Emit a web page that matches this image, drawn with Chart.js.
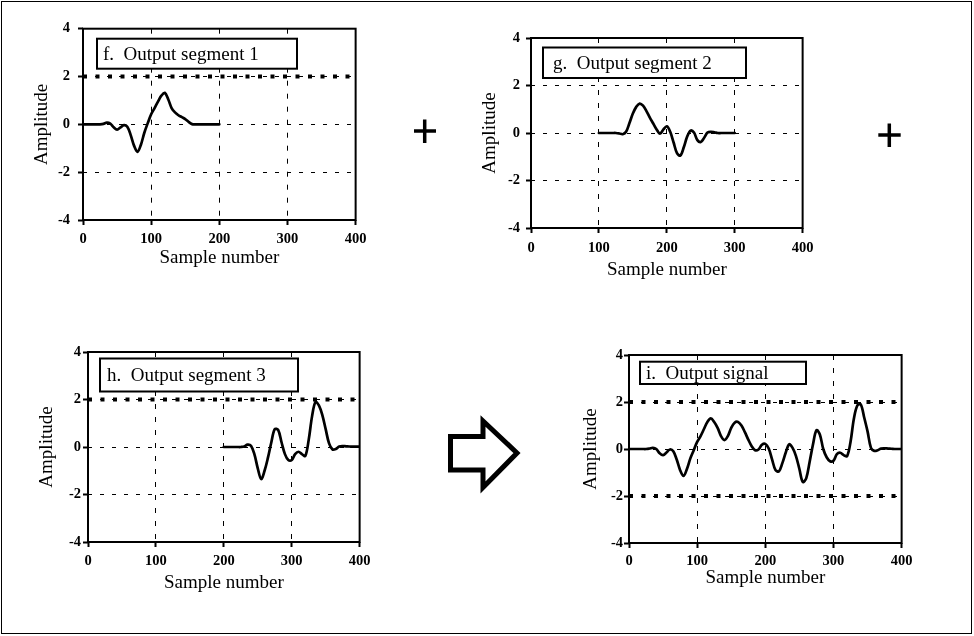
<!DOCTYPE html>
<html><head><meta charset="utf-8">
<script src="https://cdn.jsdelivr.net/npm/chart.js@4/dist/chart.umd.min.js"></script>
<style>
html,body{margin:0;padding:0;background:#fff;}
body{width:974px;height:636px;position:relative;overflow:hidden;}
#frame{position:absolute;left:1px;top:1px;width:971px;height:633px;border:1px solid #000;box-sizing:border-box;}
canvas{position:absolute;}
svg{position:absolute;left:0;top:0;}
</style></head><body>
<div id="frame"></div>
<canvas id="cf"></canvas>
<canvas id="cg"></canvas>
<canvas id="ch"></canvas>
<canvas id="ci"></canvas>
<svg width="974" height="636">
  <g stroke="#000" stroke-width="3.5" fill="none">
    <line x1="414" y1="131" x2="436" y2="131"/>
    <line x1="424.7" y1="119.5" x2="424.7" y2="143"/>
    <line x1="878.3" y1="135" x2="900.7" y2="135"/>
    <line x1="889.3" y1="123.5" x2="889.3" y2="147"/>
  </g>
  <polygon points="450.5,436.5 483,436.5 483,421 517,453 483,487.5 483,470 450.5,470" fill="#fff" stroke="#000" stroke-width="5" stroke-linejoin="miter"/>
</svg>
<script>
// ---- data ----
const sampleTicks = [0, 100, 200, 300, 400];
const amplitudeTicks = [-4, -2, 0, 2, 4];

const seg1Samples = [0,5,10,15,20,25,30,35,40,45,50,55,60,65,70,75,80,85,90,95,100,105,110,115,120,125,130,135,140,145,150,155,160,165,170,175,180,185,190,195,200];
const seg1Values  = [0,0,0,0,0,0,0.02,0.07,0.03,-0.12,-0.22,-0.13,-0.03,-0.1,-0.45,-0.9,-1.15,-0.85,-0.35,0.05,0.42,0.68,0.95,1.2,1.32,1.05,0.68,0.5,0.38,0.3,0.22,0.1,0.01,0,0,0,0,0,0,0,0];

const seg2Samples = [100,105,110,115,120,125,130,135,140,145,150,155,160,165,170,175,180,185,190,195,200,205,210,215,220,225,230,235,240,245,250,255,260,265,270,275,280,285,290,295,300];
const seg2Values  = [0,0,0,0,0,0,-0.02,-0.05,0.05,0.42,0.82,1.1,1.24,1.15,0.92,0.65,0.4,0.15,-0.03,0.15,0.28,0.05,-0.4,-0.85,-0.95,-0.6,-0.15,0.1,0.02,-0.3,-0.38,-0.2,0.02,0.05,0.03,0,0,0,0,0,0];

const seg3Samples = [200,205,210,215,220,225,230,235,240,245,250,255,260,265,270,275,280,285,290,295,300,305,310,315,320,325,330,335,340,345,350,355,360,365,370,375,380,385,390,395,400];
const seg3Values  = [0,0,0,0,0,0,0.02,0.1,0.05,-0.3,-0.9,-1.35,-1.0,-0.45,0.2,0.75,0.72,0.2,-0.3,-0.55,-0.55,-0.3,-0.2,-0.3,-0.38,0.3,1.3,1.9,1.75,1.35,0.75,0.15,-0.1,-0.08,0.02,0.04,0.03,0.02,0.02,0.02,0.02];

const outSamples = [0,5,10,15,20,25,30,35,40,45,50,55,60,65,70,75,80,85,90,95,100,105,110,115,120,125,130,135,140,145,150,155,160,165,170,175,180,185,190,195,200,205,210,215,220,225,230,235,240,245,250,255,260,265,270,275,280,285,290,295,300,305,310,315,320,325,330,335,340,345,350,355,360,365,370,375,380,385,390,395,400];
const outValues  = [0,0,0,0,0,0,0.02,0.05,0,-0.18,-0.26,-0.15,-0.02,-0.1,-0.45,-0.9,-1.15,-0.85,-0.4,-0.05,0.3,0.55,0.85,1.15,1.3,1.15,0.9,0.55,0.38,0.55,0.9,1.12,1.15,1.0,0.72,0.4,0.12,-0.05,-0.02,0.18,0.22,0.02,-0.45,-0.9,-0.95,-0.6,-0.15,0.2,0.05,-0.3,-0.85,-1.4,-1.25,-0.55,0.2,0.8,0.62,0,-0.35,-0.52,-0.5,-0.22,-0.16,-0.26,-0.3,0.3,1.3,1.85,1.9,1.35,0.75,0.05,-0.08,-0.05,0.02,0.03,0.02,0.01,0,0,0];

const refLevelsF = [2];
const refLevelsG = [];
const refLevelsH = [2];
const refLevelsI = [2, -2];

const titleF = 'f.  Output segment 1';
const titleG = 'g.  Output segment 2';
const titleH = 'h.  Output segment 3';
const titleI = 'i.  Output signal';
const xTitle = 'Sample number';
const yTitle = 'Amplitude';

// ---- rendering ----
const SERIF = '"Liberation Serif", "Times New Roman", serif';
Chart.defaults.font.family = SERIF;
Chart.defaults.color = '#000';

const decorPlugin = {
  id: 'decor',
  afterDraw(chart, args, o) {
    const ctx = chart.ctx, a = chart.chartArea;
    ctx.save();
    ctx.setLineDash([]);
    ctx.strokeStyle = '#000';
    ctx.lineWidth = 2;
    ctx.strokeRect(a.left, a.top, a.right - a.left, a.bottom - a.top);
    const b = o.box;
    const bx = a.left + b.dx, by = a.top + b.dy;
    ctx.fillStyle = '#fff';
    ctx.fillRect(bx, by, b.w, b.h);
    ctx.strokeRect(bx, by, b.w, b.h);
    ctx.fillStyle = '#000';
    ctx.font = '19px ' + SERIF;
    ctx.textBaseline = 'middle';
    ctx.textAlign = 'left';
    ctx.fillText(o.text, bx + b.pad, by + b.h / 2 + 1);
    ctx.restore();
  }
};

function makePanel(id, r, xs, ys, refs, title, box, p) {
  const W = (r.R - r.L) + 75 + 15, H = (r.B - r.T) + 15 + 55;
  const cv = document.getElementById(id);
  cv.width = W; cv.height = H;
  cv.style.left = (r.L - 75) + 'px';
  cv.style.top = (r.T - 15) + 'px';
  const datasets = [];
  refs.forEach(lv => {
    datasets.push({
      data: [{x: sampleTicks[0], y: lv}, {x: sampleTicks[sampleTicks.length - 1], y: lv}],
      borderColor: '#000', borderWidth: 4, borderDash: [4, 8.5], borderCapStyle: 'butt',
      pointRadius: 0, tension: 0
    });
  });
  datasets.push({
    data: xs.map((x, i) => ({x: x, y: ys[i]})),
    borderColor: '#000', borderWidth: 2.7, pointRadius: 0, tension: 0.35,
    borderJoinStyle: 'round', borderCapStyle: 'round'
  });
  new Chart(cv, {
    type: 'line',
    data: { datasets },
    options: {
      responsive: false, animation: false, devicePixelRatio: 1,
      layout: { padding: { top: 15, right: 15, left: 0, bottom: 0 } },
      plugins: { legend: { display: false }, tooltip: { enabled: false }, decor: { box: box, text: title } },
      scales: {
        x: {
          type: 'linear', min: sampleTicks[0], max: sampleTicks[sampleTicks.length - 1],
          afterBuildTicks: s => { s.ticks = sampleTicks.map(v => ({value: v})); },
          afterFit: s => { s.height = 55; },
          ticks: { font: { size: 14.5, weight: 'bold' }, color: '#000', padding: p.xPad, maxRotation: 0 },
          grid: { color: '#000', lineWidth: 1, drawTicks: true, tickLength: 5, tickColor: '#000', tickWidth: 2, tickBorderDash: [] },
          border: { display: false, dash: [5, 8] },
          title: { display: true, text: xTitle, font: { size: 19 }, color: '#000', padding: { top: 0, bottom: p.xtPad } }
        },
        y: {
          type: 'linear', min: amplitudeTicks[0], max: amplitudeTicks[amplitudeTicks.length - 1],
          afterBuildTicks: s => { s.ticks = amplitudeTicks.map(v => ({value: v})); },
          afterFit: s => { s.width = 75; },
          ticks: { font: { size: 14.5, weight: 'bold' }, color: '#000', padding: p.yPad },
          grid: { color: '#000', lineWidth: 1, drawTicks: true, tickLength: 5, tickColor: '#000', tickWidth: 2, tickBorderDash: [] },
          border: { display: false, dash: [4, 8] },
          title: { display: true, text: yTitle, font: { size: 19 }, color: '#000', padding: { top: p.ytPad, bottom: 0 } }
        }
      }
    },
    plugins: [decorPlugin]
  });
}

makePanel('cf', {L: 83, T: 27, R: 357, B: 220}, seg1Samples, seg1Values, refLevelsF, titleF,
  {dx: 14, dy: 10, w: 200, h: 30, pad: 6}, {xPad: 5.5, xtPad: 5.6, yPad: 8, ytPad: 22.6});
makePanel('cg', {L: 531, T: 38, R: 805, B: 228}, seg2Samples, seg2Values, refLevelsG, titleG,
  {dx: 12, dy: 9.5, w: 203, h: 30.5, pad: 10}, {xPad: 6.5, xtPad: 1.6, yPad: 6, ytPad: 22.6});
makePanel('ch', {L: 88, T: 352, R: 361, B: 542}, seg3Samples, seg3Values, refLevelsH, titleH,
  {dx: 12, dy: 6.5, w: 198, h: 33, pad: 7}, {xPad: 5.5, xtPad: 2.6, yPad: 2, ytPad: 22.6});
makePanel('ci', {L: 629, T: 355, R: 902, B: 543}, outSamples, outValues, refLevelsI, titleI,
  {dx: 11, dy: 6.7, w: 166, h: 22.3, pad: 6}, {xPad: 4.5, xtPad: 8.6, yPad: 1, ytPad: 26});
</script>
</body></html>
